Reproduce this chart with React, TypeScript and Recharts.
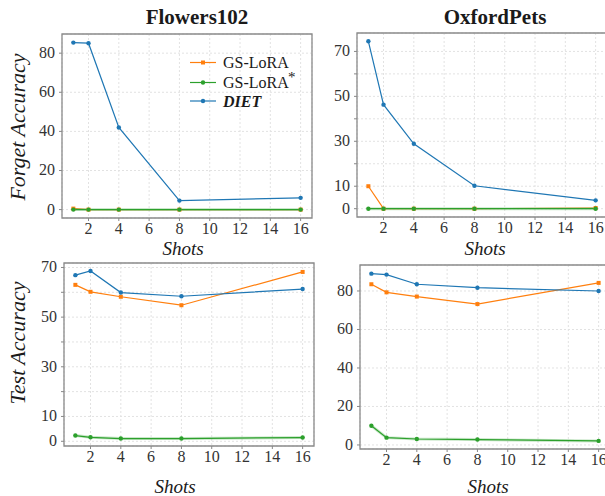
import React from 'react';
import { LineChart, Line, XAxis, YAxis, CartesianGrid, ReferenceArea } from 'recharts';

const shots = [1, 2, 4, 8, 16];
const xTicks = [2, 4, 6, 8, 10, 12, 14, 16];

const flowersForgetGS = [0.5, 0, 0, 0, 0];
const flowersForgetGSStar = [0, 0, 0, 0, 0];
const flowersForgetDIET = [85.4, 85.1, 42.0, 4.6, 6.0];

const petsForgetGS = [10.0, 0, 0, 0, 0.3];
const petsForgetGSStar = [0, 0, 0, 0, 0];
const petsForgetDIET = [74.5, 46.3, 28.9, 10.2, 3.7];

const flowersTestGS = [63.0, 60.2, 58.2, 54.8, 68.2];
const flowersTestGSStar = [2.3, 1.6, 1.1, 1.1, 1.5];
const flowersTestDIET = [66.9, 68.6, 59.9, 58.4, 61.3];

const petsTestGS = [83.5, 79.3, 77.1, 73.2, 84.2];
const petsTestGSStar = [10.0, 3.8, 3.1, 2.8, 2.1];
const petsTestDIET = [89.0, 88.5, 83.5, 81.7, 80.0];

const ticks20 = [0, 20, 40, 60, 80];
const ticks10 = [0, 10, 20, 30, 40, 50, 60, 70];
const labels10 = [0, 10, 30, 50, 70];

const ORANGE = '#ff7f0e';
const GREEN = '#2ca02c';
const BLUE = '#1f77b4';
const FONT = "Liberation Serif";

const build = (gs: number[], gsStar: number[], diet: number[]) =>
  shots.map((s, i) => ({ shot: s, gs: gs[i], gsStar: gsStar[i], diet: diet[i] }));

const SquareDot = (props: any) => {
  const { cx, cy } = props;
  if (cx == null || cy == null) return null;
  return <rect x={cx - 2} y={cy - 2} width={4} height={4} fill={ORANGE} />;
};
const CircleDot = (color: string) => (props: any) => {
  const { cx, cy } = props;
  if (cx == null || cy == null) return null;
  return <circle cx={cx} cy={cy} r={2.2} fill={color} />;
};

const XTick = (props: any) => {
  const { x, y, payload } = props;
  return (
    <g fontFamily={FONT}>
      <text x={x} y={y + 11} textAnchor="middle" fontFamily={FONT} fontSize={16} fill="#333"
        style={{ fontFamily: FONT }}>
        {String(payload.value)}
      </text>
    </g>
  );
};
const makeYTick = (labels?: number[]) => (props: any) => {
  const { x, y, payload } = props;
  if (labels && !labels.includes(payload.value)) return <g />;
  return (
    <g fontFamily={FONT}>
      <text x={x} y={y + 5} textAnchor="end" fontFamily={FONT} fontSize={16} fill="#333"
        style={{ fontFamily: FONT }}>
        {String(payload.value)}
      </text>
    </g>
  );
};

type PanelProps = {
  left: number; top: number; fw: number; fh: number;
  data: any[]; domain: [number, number]; ticks: number[]; labels?: number[];
};

const Panel = ({ left, top, fw, fh, data, domain, ticks, labels }: PanelProps) => {
  const padL = 50, padT = 6, padR = 6, padB = 28;
  const xDomain: [number, number] = [0.25, 16.75];
  return (
    <div style={{ position: 'absolute', left: left - padL, top: top - padT, fontFamily: FONT }}>
      <LineChart width={fw + padL + padR} height={fh + padT + padB} data={data}
        margin={{ top: padT, right: padR, left: 0, bottom: 0 }} style={{ fontFamily: FONT }}>
        <CartesianGrid stroke="#e2e2e2" strokeDasharray="2 2" />
        <XAxis dataKey="shot" type="number" domain={xDomain} ticks={xTicks} allowDataOverflow
          height={padB} tickSize={3} tickMargin={2} axisLine={false} tickLine={{ stroke: '#888' }}
          interval={0} tick={<XTick />} />
        <YAxis type="number" domain={domain} ticks={ticks} allowDataOverflow width={padL}
          tickSize={3} tickMargin={4} axisLine={false} tickLine={{ stroke: '#888' }} interval={0}
          tick={makeYTick(labels)} />
        <Line type="linear" dataKey="gs" stroke={ORANGE} strokeWidth={1.2} dot={<SquareDot />}
          activeDot={false} isAnimationActive={false} />
        <Line type="linear" dataKey="gsStar" stroke={GREEN} strokeOpacity={0.25} strokeWidth={3}
          dot={false} activeDot={false} isAnimationActive={false} legendType="none" />
        <Line type="linear" dataKey="gsStar" stroke={GREEN} strokeWidth={1.2} dot={CircleDot(GREEN)}
          activeDot={false} isAnimationActive={false} />
        <Line type="linear" dataKey="diet" stroke={BLUE} strokeWidth={1.2} dot={CircleDot(BLUE)}
          activeDot={false} isAnimationActive={false} />
        <ReferenceArea x1={xDomain[0]} x2={xDomain[1]} y1={domain[0]} y2={domain[1]}
          fill="none" fillOpacity={0} stroke="#8a8a8a" strokeWidth={1.3} ifOverflow="visible" />
      </LineChart>
    </div>
  );
};

export default function App() {
  return (
    <div style={{ position: 'fixed', left: 0, top: 0, width: 605, height: 496, background: '#fff', overflow: 'hidden', fontFamily: FONT }}>
      <Panel left={61.5} top={34} fw={250} fh={184} data={build(flowersForgetGS, flowersForgetGSStar, flowersForgetDIET)}
        domain={[-4.3, 89.8]} ticks={ticks20} />
      <Panel left={357} top={33} fw={250} fh={184} data={build(petsForgetGS, petsForgetGSStar, petsForgetDIET)}
        domain={[-3.7, 78.2]} ticks={ticks10} labels={labels10} />
      <Panel left={64} top={263} fw={250} fh={183} data={build(flowersTestGS, flowersTestGSStar, flowersTestDIET)}
        domain={[-1.9, 71.8]} ticks={ticks10} labels={labels10} />
      <Panel left={360} top={265} fw={250} fh={184} data={build(petsTestGS, petsTestGSStar, petsTestDIET)}
        domain={[-2.1, 93.5]} ticks={ticks20} />
      <svg width={605} height={496} style={{ position: 'absolute', left: 0, top: 0, pointerEvents: 'none' }}>
        <g fontFamily={FONT} fill="#1a1a1a">
          <text x={197} y={24} textAnchor="middle" fontSize={21} fontWeight="bold">Flowers102</text>
          <text x={495} y={24} textAnchor="middle" fontSize={21} fontWeight="bold">OxfordPets</text>
          <text x={183} y={255} textAnchor="middle" fontSize={19} fontStyle="italic">Shots</text>
          <text x={485} y={255} textAnchor="middle" fontSize={19} fontStyle="italic">Shots</text>
          <text x={175} y={493} textAnchor="middle" fontSize={19} fontStyle="italic">Shots</text>
          <text x={488} y={493} textAnchor="middle" fontSize={19} fontStyle="italic">Shots</text>
          <text transform="translate(25,127) rotate(-90)" textAnchor="middle" fontSize={22} fontStyle="italic">Forget Accuracy</text>
          <text transform="translate(25,343) rotate(-90)" textAnchor="middle" fontSize={22} fontStyle="italic">Test Accuracy</text>
        </g>
        <g fontFamily={FONT} fill="#1a1a1a" fontSize={16}>
          <line x1={190} x2={216} y1={62.5} y2={62.5} stroke={ORANGE} strokeWidth={1.2} />
          <rect x={201} y={60.5} width={4} height={4} fill={ORANGE} />
          <text x={223} y={68}>GS-LoRA</text>
          <line x1={190} x2={216} y1={82.5} y2={82.5} stroke={GREEN} strokeWidth={1.2} />
          <circle cx={203} cy={82.5} r={2.2} fill={GREEN} />
          <text x={223} y={88}>GS-LoRA</text>
          <text x={288} y={82} fontSize={15}>*</text>
          <line x1={190} x2={216} y1={101} y2={101} stroke={BLUE} strokeWidth={1.2} />
          <circle cx={203} cy={101} r={2.2} fill={BLUE} />
          <text x={223} y={106.5} fontWeight="bold" fontStyle="italic">DIET</text>
        </g>
      </svg>
    </div>
  );
}
